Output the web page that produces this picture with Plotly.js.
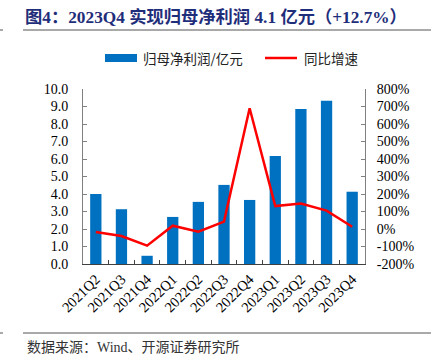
<!DOCTYPE html>
<html>
<head>
<meta charset="utf-8">
<script src="https://cdn.plot.ly/plotly-3.0.1.min.js"></script>
<style>html,body{margin:0;padding:0;background:#fff;}#chart{width:431px;height:358px;}</style>
</head>
<body>
<div id="chart"></div>
<script>
const categories = ["2021Q2","2021Q3","2021Q4","2022Q1","2022Q2","2022Q3","2022Q4","2023Q1","2023Q2","2023Q3","2023Q4"];
const profit = [4.0, 3.13, 0.47, 2.69, 3.55, 4.52, 3.66, 6.17, 8.86, 9.33, 4.13];
const growth = [-17, -40, -95, 19, -15, 42, 690, 131, 145, 105, 12.7];
const leftTicks = [0,1,2,3,4,5,6,7,8,9,10];
const rightTicks = [-200,-100,0,100,200,300,400,500,600,700,800];
const seriesNames = ["归母净利润/亿元", "同比增速"];

const L = 83, R = 365, T = 89, B = 264, W = 431, H = 358;
const px = x => (x - L) / (R - L);
const py = y => (B - y) / (B - T);

const serif = "Liberation Serif, Times New Roman, Noto Sans CJK SC, serif";
const cjk = "Noto Sans CJK SC, sans-serif";

const traces = [
  {type:"bar", x:categories, y:profit, name:seriesNames[0], marker:{color:"#0070C0"}, yaxis:"y", showlegend:false},
  {type:"scatter", mode:"lines", x:categories, y:growth, name:seriesNames[1], line:{color:"#FF0000", width:2.5}, yaxis:"y2", showlegend:false}
];

const layout = {
  width:W, height:H,
  margin:{l:L, r:W-R, t:T, b:H-B, pad:0},
  paper_bgcolor:"#fff", plot_bgcolor:"#fff",
  bargap:0.56,
  showlegend:false,
  title:{text:"图4：2023Q4 实现归母净利润 4.1 亿元（+12.7%）", xref:"container", yref:"container", x:25/W, xanchor:"left", y:1-17/H, yanchor:"middle",
    font:{family:serif, size:17.3, color:"#1F2E7A", weight:"bold"}},
  xaxis:{type:"category", tickvals:categories, ticktext:categories, tickangle:-45, ticks:"inside", tickson:"boundaries", ticklen:4, tickcolor:"#404040",
    showline:true, linecolor:"#404040", linewidth:1, showgrid:false, zeroline:false, tickfont:{family:serif, size:14.5, color:"#000"}},
  yaxis:{range:[0,10], tickvals:leftTicks, tickformat:".1f", ticks:"inside", ticklen:4, tickcolor:"#808080", showline:true, linecolor:"#808080", linewidth:1,
    showgrid:false, zeroline:false, tickfont:{family:serif, size:14, color:"#000"}, ticklabelstandoff:11},
  yaxis2:{overlaying:"y", side:"right", range:[-200,800], tickvals:rightTicks, ticktext:rightTicks.map(v=>v+"%"), ticks:"inside", ticklen:4, tickcolor:"#808080",
    showline:true, linecolor:"#808080", linewidth:1, showgrid:false, zeroline:false, tickfont:{family:serif, size:14, color:"#000"}, ticklabelstandoff:8},
  shapes:[
    {type:"line", xref:"paper", yref:"paper", x0:px(23), x1:px(431), y0:py(30), y1:py(30), line:{color:"#555", width:1}},
    {type:"line", xref:"paper", yref:"paper", x0:px(0), x1:px(3), y0:py(30), y1:py(30), line:{color:"#555", width:1}},
    {type:"line", xref:"paper", yref:"paper", x0:px(23), x1:px(431), y0:py(333), y1:py(333), line:{color:"#555", width:1}},
    {type:"line", xref:"paper", yref:"paper", x0:px(0), x1:px(3), y0:py(333), y1:py(333), line:{color:"#555", width:1}},
    {type:"rect", xref:"paper", yref:"paper", x0:px(105), x1:px(137), y0:py(62), y1:py(54), fillcolor:"#0070C0", line:{width:0}},
    {type:"line", xref:"paper", yref:"paper", x0:px(265), x1:px(297), y0:py(58), y1:py(58), line:{color:"#FF0000", width:2.5}}
  ],
  annotations:[
    {text:seriesNames[0], xref:"paper", yref:"paper", x:px(141), y:py(58), xanchor:"left", yanchor:"middle", showarrow:false,
      font:{family:cjk, size:13.5, color:"#222"}},
    {text:seriesNames[1], xref:"paper", yref:"paper", x:px(302), y:py(58), xanchor:"left", yanchor:"middle", showarrow:false,
      font:{family:cjk, size:13.5, color:"#222"}},
    {text:"数据来源：Wind、开源证券研究所", xref:"paper", yref:"paper", x:px(25), y:py(347), xanchor:"left", yanchor:"middle", showarrow:false,
      font:{family:"Liberation Serif, Noto Sans CJK SC, serif", size:14, color:"#333"}}
  ]
};

Plotly.newPlot("chart", traces, layout, {displayModeBar:false, staticPlot:true});
</script>
</body>
</html>
